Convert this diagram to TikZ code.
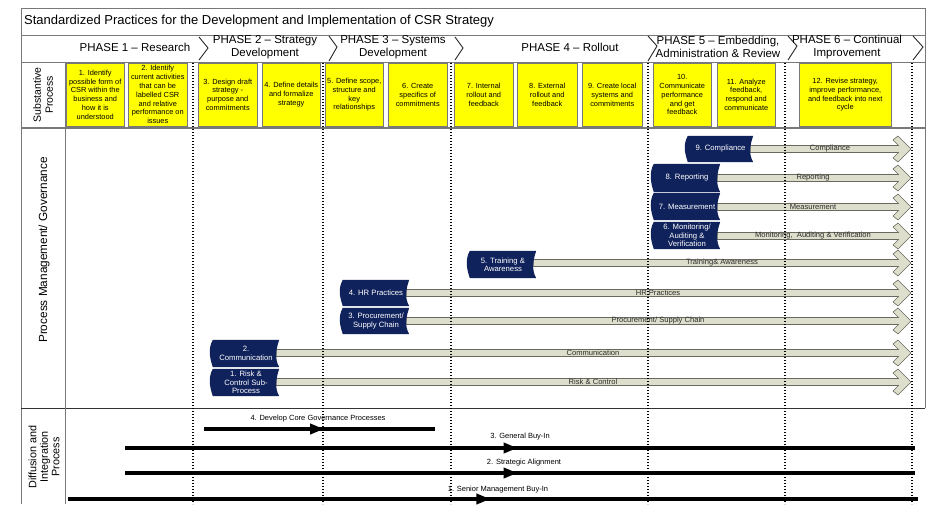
\documentclass[tikz,border=0pt]{standalone}
\usepackage{fontspec}
\setmainfont{Liberation Sans}
\usetikzlibrary{arrows.meta,decorations.markings,calc}
\definecolor{navy}{RGB}{16,34,92}
\definecolor{beige}{RGB}{222,222,204}
\definecolor{beigeline}{RGB}{105,105,95}
\definecolor{framegray}{RGB}{120,120,120}
\definecolor{yfill}{RGB}{255,255,0}
\definecolor{labelgray}{RGB}{45,45,45}
\pgfdeclarelayer{arrowlayer}
\pgfdeclarelayer{taglayer}
\pgfsetlayers{arrowlayer,taglayer,main}
\newcommand\tagshape[1]{%
  \begin{pgfonlayer}{taglayer}
  \fill[navy] (#1.north west) .. controls +(-5,9) and +(-3,-9) .. (#1.south west)
    -- (#1.south east) .. controls +(-5,-9) and +(-3,9) .. (#1.north east) -- cycle;
  \end{pgfonlayer}}
\newcommand\bigarrow[2]{%
  \begin{pgfonlayer}{arrowlayer}
  \path[bigarr] let \p1=(#1.east), \p2=(#2) in
    (\x1-3pt,\y2+3.5pt) -- (\x2-12.5pt,\y2+3.5pt) -- (\x2-18pt,\y2+9pt)
    -- (\x2-13pt,\y2+13pt) -- (\x2,\y2) -- (\x2-13pt,\y2-13pt)
    -- (\x2-18pt,\y2-9pt) -- (\x2-12.5pt,\y2-3.5pt) -- (\x1-3pt,\y2-3.5pt) -- cycle;
  \end{pgfonlayer}}
\begin{document}
\begin{tikzpicture}[x=1pt,y=-1pt,
  framel/.style={draw=framegray,line width=0.8pt},
  chev/.style={draw=black!85,line width=0.9pt},
  dotline/.style={draw=black,line width=1.7pt,dash pattern=on 1.4pt off 1.6pt},
  ybox/.style={draw=framegray,line width=0.5pt,fill=yfill,align=center,inner sep=0pt,
    anchor=north west,minimum height=63,font=\fontsize{7.4}{8.8}\selectfont},
  phase/.style={align=center,inner sep=0pt,font=\fontsize{11.5}{13}\selectfont},
  tagnode/.style={inner sep=0pt,align=center,text=white,minimum width=66,minimum height=27,
    font=\fontsize{7.7}{8.5}\selectfont},
  arrlabel/.style={inner sep=0pt,text=labelgray,font=\fontsize{7.6}{9}\selectfont},
  bigarr/.style={fill=beige,draw=beigeline,line width=0.6pt,line join=miter},
  sidelabel/.style={rotate=90,align=center,inner sep=0pt},
  dlabel/.style={inner sep=0pt,font=\fontsize{7.5}{9}\selectfont},
  thickline/.style={line width=3.8pt,postaction={decorate},
    decoration={markings,mark=at position #1 with {\arrow{Triangle[length=14pt,width=10pt]}}}}
]
\useasboundingbox (0,0) rectangle (930,504);

% frame
\draw[framel] (21,8) rectangle (925,35);
\draw[framel] (21,35) -- (21,504);
\draw[framel] (925,35) -- (925,408);
\draw[framel] (21,62) -- (925,62);
\draw[framel,line width=1.8pt] (21,128) -- (925,128);
\draw[draw=black!80,line width=0.9pt] (21,408) -- (925,408);
\draw[framel] (65,62) -- (65,504);

% title
\node[anchor=west,inner sep=0pt,font=\fontsize{13}{15}\selectfont] (title) at (24,21)
  {Standardized Practices for the Development and Implementation of CSR Strategy};

% phase chevrons
\draw[chev] (199,37) -- (208,48) -- (199,60);
\draw[chev] (329,36) -- (337,47) -- (329,61);
\draw[chev] (455,37) -- (463,48) -- (455,60);
\draw[chev] (648,36) -- (657,46) -- (648,61);
\draw[chev] (788,36) -- (797,46) -- (788,60);
\draw[chev] (913,36) -- (923,47) -- (913,60);

% phase labels
\node[phase] (p1) at (135,47.5) {PHASE 1 -- Research};
\node[phase] (p2) at (265,47) {PHASE 2 -- Strategy\\Development};
\node[phase] (p3) at (393,47) {PHASE 3 -- Systems\\Development};
\node[phase] (p4) at (570,47.5) {PHASE 4 -- Rollout};
\node[phase] (p5) at (718,47) {PHASE 5 -- Embedding,\\Administration \& Review};
\node[phase] (p6) at (847,47) {PHASE 6 -- Continual\\Improvement};

% side labels
\node[sidelabel,font=\fontsize{10.5}{12}\selectfont] (lsub) at (43,95) {Substantive\\Process};
\node[sidelabel,font=\fontsize{11.8}{13}\selectfont] (lpm) at (44,250) {Process Management/ Governance};
\node[sidelabel,font=\fontsize{10.8}{11.5}\selectfont] (ldif) at (44,457) {Diffusion and\\Integration\\Process};

% yellow boxes
\node[ybox,minimum width=58] (s1) at (66,63) {1. Identify\\possible form of\\CSR within the\\business and\\how it is\\understood};
\node[ybox,minimum width=59] (s2) at (128,63) {2. Identify\\current activities\\that can be\\labelled CSR\\and relative\\performance on\\issues};
\node[ybox,minimum width=59] (s3) at (198,63) {3. Design draft\\strategy -\\purpose and\\commitments};
\node[ybox,minimum width=58] (s4) at (262,63) {4. Define details\\and formalize\\strategy};
\node[ybox,minimum width=58] (s5) at (325,63) {5. Define scope,\\structure and\\key\\relationships};
\node[ybox,minimum width=59] (s6) at (388,63) {6. Create\\specifics of\\commitments};
\node[ybox,minimum width=59] (s7) at (454,63) {7. Internal\\rollout and\\feedback};
\node[ybox,minimum width=60] (s8) at (517,63) {8. External\\rollout and\\feedback};
\node[ybox,minimum width=60] (s9) at (582,63) {9. Create local\\systems and\\commitments};
\node[ybox,minimum width=58] (s10) at (653,63) {10.\\Communicate\\performance\\and get\\feedback};
\node[ybox,minimum width=58] (s11) at (717,63) {11. Analyze\\feedback,\\respond and\\communicate};
\node[ybox,minimum width=92] (s12) at (799,63) {12. Revise strategy,\\improve performance,\\and feedback into next\\cycle};

% tags
\node[tagnode,minimum width=65,minimum height=26] (t9) at (720.5,149) {9. Compliance};
\node[tagnode,minimum height=28] (t8) at (687,178) {8. Reporting};
\node[tagnode] (t7) at (687,206.5) {7. Measurement};
\node[tagnode] (t6) at (687,235.5) {6. Monitoring/\\Auditing \&\\Verification};
\node[tagnode] (t5) at (503,264.5) {5. Training \&\\Awareness};
\node[tagnode,minimum height=26] (t4) at (376,293) {4. HR Practices};
\node[tagnode,minimum height=26] (t3) at (376,321) {3. Procurement/\\Supply Chain};
\node[tagnode] (t2) at (246,353.5) {2.\\Communication};
\node[tagnode] (t1) at (246,382.5) {1. Risk \&\\Control Sub-\\Process};
\foreach \t in {t1,t2,t3,t4,t5,t6,t7,t8,t9} {\tagshape{\t}}

% arrow ends
\coordinate (e9) at (911,149);
\coordinate (e8) at (911,178);
\coordinate (e7) at (911,207);
\coordinate (e6) at (911,236);
\coordinate (e5) at (911,263);
\coordinate (e4) at (911,293);
\coordinate (e3) at (911,321);
\coordinate (e2) at (911,353);
\coordinate (e1) at (911,382);
\bigarrow{t9}{e9}
\bigarrow{t8}{e8}
\bigarrow{t7}{e7}
\bigarrow{t6}{e6}
\bigarrow{t5}{e5}
\bigarrow{t4}{e4}
\bigarrow{t3}{e3}
\bigarrow{t2}{e2}
\bigarrow{t1}{e1}

% arrow labels
\node[arrlabel] (a9) at (830,149) {Compliance};
\node[arrlabel] (a8) at (813,178) {Reporting};
\node[arrlabel] (a7) at (813,207) {Measurement};
\node[arrlabel] (a6) at (813,236) {Monitoring,\ \ Auditing \& Verification};
\node[arrlabel] (a5) at (722,263) {Training\& Awareness};
\node[arrlabel] (a4) at (658,293) {HR Practices};
\node[arrlabel] (a3) at (658,321) {Procurement/ Supply Chain};
\node[arrlabel] (a2) at (593,353) {Communication};
\node[arrlabel] (a1) at (593,382) {Risk \& Control};

% dotted phase separators
\foreach \x in {193,323,451,648,785,912} {\draw[dotline] (\x,63) -- (\x,504);}

% diffusion lines
\coordinate (d4a) at (204,429); \coordinate (d4b) at (435,429);
\coordinate (d3a) at (125,448); \coordinate (d3b) at (915,448);
\coordinate (d2a) at (125,473); \coordinate (d2b) at (915,473);
\coordinate (d1a) at (68,499);  \coordinate (d1b) at (918,499);
\draw[thickline=0.52] (d4a) -- (d4b);
\draw[thickline=0.497] (d3a) -- (d3b);
\draw[thickline=0.497] (d2a) -- (d2b);
\draw[thickline=0.497] (d1a) -- (d1b);
\node[dlabel] (g4) at (318,419) {4. Develop Core Governance Processes};
\node[dlabel] (g3) at (520,437) {3. General Buy-In};
\node[dlabel] (g2) at (524,463) {2. Strategic Alignment};
\node[dlabel] (g1) at (498,490) {1. Senior Management Buy-In};
\end{tikzpicture}
\end{document}
